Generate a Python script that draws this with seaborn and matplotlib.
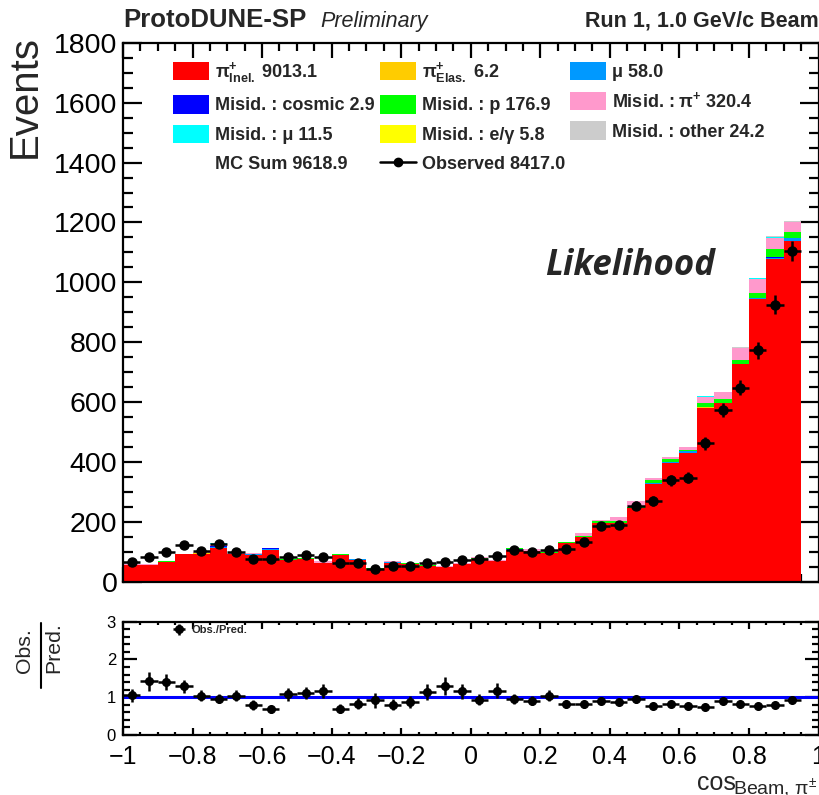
import numpy as np
import pandas as pd
import matplotlib
matplotlib.use("Agg")
import matplotlib.pyplot as plt
import seaborn as sns
from matplotlib.patches import Patch
from matplotlib.lines import Line2D
from matplotlib.ticker import MultipleLocator, FuncFormatter

# cos(theta) binning: 39 bins of width 0.05 from -1 to 0.95
bin_edges = [round(-1.0 + 0.05 * i, 3) for i in range(40)]

# Stacked MC components (events per bin)
pi_inel = [57, 56, 67, 93, 95, 115, 93, 91, 108, 75, 78, 64, 91, 73, 45, 65, 61, 53, 50, 59,
           76, 70, 107, 102, 97, 129, 149, 196, 198, 246, 327, 398, 432, 582, 596, 727, 944, 1077, 1138]
pi_elas = [0, 0, 0, 0, 1, 0, 0, 0, 0, 0, 0, 0, 0, 0, 0, 0, 0, 0, 0, 0,
           0, 0, 1, 0, 0, 0, 0, 0, 0, 0, 1, 0, 0, 1, 0, 0, 1, 1, 1]
mu = [0, 0, 0, 0, 0, 3, 0, 3, 3, 0, 0, 0, 0, 3, 0, 1, 0, 1, 0, 1,
      1, 0, 1, 1, 1, 1, 2, 2, 0, 2, 2, 2, 5, 2, 2, 2, 3, 5, 9]
misid_cosmic = [0, 0, 0, 0, 0, 1, 0, 0, 1, 0, 0, 0, 0, 0, 0, 0, 0, 0, 0, 0,
                0, 0, 0, 0, 0, 0, 0, 0, 0, 0, 0, 0, 0, 0, 0, 0, 0, 1, 0]
misid_p = [1, 1, 2, 1, 2, 1, 1, 1, 1, 1, 1, 1, 1, 1, 1, 2, 1, 2, 1, 1,
           3, 1, 3, 2, 2, 3, 3, 5, 4, 3, 10, 11, 5, 12, 14, 12, 16, 28, 20]
misid_pi = [3, 2, 1, 1, 2, 8, 2, 1, 1, 1, 2, 4, 1, 1, 1, 1, 1, 1, 1, 1,
            2, 2, 2, 4, 2, 2, 8, 3, 14, 19, 6, 5, 10, 22, 21, 39, 47, 36, 32]
misid_mu = [0, 0, 0, 0, 0, 2, 0, 0, 1, 0, 0, 0, 0, 0, 0, 0, 0, 0, 0, 0,
            0, 0, 0, 0, 0, 0, 0, 0, 0, 0, 0, 0, 0, 1, 0, 1, 2, 2, 2]
misid_egamma = [0, 0, 1, 0, 1, 0, 0, 0, 0, 0, 0, 0, 0, 0, 0, 0, 0, 0, 0, 0,
                0, 0, 0, 0, 0, 0, 0, 0, 0, 0, 0, 0, 0, 1, 0, 0, 1, 1, 1]
misid_other = [4, 1, 0, 0, 0, 1, 0, 1, 0, 0, 0, 1, 0, 0, 0, 0, 0, 0, 0, 0,
               0, 0, 0, 1, 0, 0, 2, 0, 0, 1, 0, 0, 0, 1, 0, 2, 2, 3, 3]

# Data
observed = [68, 85, 100, 122, 105, 126, 100, 77, 78, 83, 90, 82, 65, 65, 43, 55, 55, 65, 68, 72,
            77, 86, 108, 100, 106, 111, 133, 187, 190, 255, 269, 340, 348, 463, 574, 648, 773, 926, 1105]

component_names = ["pi_inel", "pi_elas", "mu", "misid_cosmic", "misid_p",
                   "misid_pi", "misid_mu", "misid_egamma", "misid_other"]
component_values = [pi_inel, pi_elas, mu, misid_cosmic, misid_p,
                    misid_pi, misid_mu, misid_egamma, misid_other]
component_colors = ["#ff0000", "#ffcc00", "#0099ff", "#0000ff", "#00ff00",
                    "#ff99cc", "#00ffff", "#ffff00", "#cccccc"]
legend_labels = [r"π$^{+}_{Inel.}$ 9013.1", r"π$^{+}_{Elas.}$ 6.2", "μ 58.0",
                 "Misid. : cosmic 2.9", "Misid. : p 176.9", r"Misid. : π$^{+}$ 320.4",
                 "Misid. : μ 11.5", "Misid. : e/γ 5.8", "Misid. : other 24.2"]
mc_sum_label = "MC Sum 9618.9"
observed_label = "Observed 8417.0"

sns.set_theme(style="ticks")
plt.rcParams["font.family"] = ["Liberation Sans", "DejaVu Sans"]
plt.rcParams.update({
    "mathtext.fontset": "custom",
    "mathtext.rm": "Liberation Sans:bold",
    "mathtext.it": "Liberation Sans:bold",
    "mathtext.bf": "Liberation Sans:bold",
    "mathtext.default": "regular",
    "axes.linewidth": 1.6,
})

W, H = 819, 795
fig = plt.figure(figsize=(W / 100, H / 100), dpi=100)


def fx(px):
    return px / W


def fy(py):
    return 1 - py / H


ax = fig.add_axes([fx(123), fy(582), fx(818.5) - fx(123), fy(42.7) - fy(582)])
axr = fig.add_axes([fx(123), fy(735), fx(818.5) - fx(123), fy(621.7) - fy(735)])

edges = np.asarray(bin_edges)
centers = 0.5 * (edges[:-1] + edges[1:])
frames = []
for name, vals in zip(component_names, component_values):
    frames.append(pd.DataFrame({"x": centers, "w": np.asarray(vals, float), "comp": name}))
long_df = pd.concat(frames, ignore_index=True)

# seaborn stacks the last hue level at the bottom, so reverse the order
sns.histplot(data=long_df, x="x", weights="w", hue="comp",
             hue_order=component_names[::-1],
             palette=dict(zip(component_names, component_colors)),
             bins=bin_edges, multiple="stack", element="step", fill=True,
             linewidth=0, alpha=1, legend=False, ax=ax)

obs = np.asarray(observed, float)
ax.errorbar(centers, obs, xerr=0.025, yerr=np.sqrt(obs), fmt="o", color="black",
            ms=6.5, elinewidth=1.8, capsize=0, zorder=5)

ax.set_xlim(-1, 1)
ax.set_ylim(0, 1800)
ax.set_xlabel("")
ax.set_ylabel("")
ax.xaxis.set_major_locator(MultipleLocator(0.2))
ax.xaxis.set_minor_locator(MultipleLocator(0.05))
ax.yaxis.set_major_locator(MultipleLocator(200))
ax.yaxis.set_minor_locator(MultipleLocator(50))
ax.tick_params(which="both", direction="in", top=True, right=True, labelbottom=False,
               width=1.6, colors="black")
ax.tick_params(axis="x", which="major", length=11)
ax.tick_params(axis="x", which="minor", length=5.5)
ax.tick_params(axis="y", which="major", length=14, labelsize=20.5, pad=4)
ax.tick_params(axis="y", which="minor", length=7)
for s in ax.spines.values():
    s.set_visible(True)
    s.set_color("black")

# Legend, filled row by row
handles = [Patch(facecolor=c, edgecolor="none") for c in component_colors]
handles += [Patch(facecolor="none", edgecolor="none"),
            Line2D([0], [0], color="black", marker="o", ms=6, lw=1.8),
            Patch(facecolor="none", edgecolor="none")]
labels = legend_labels + [mc_sum_label, observed_label, ""]
order = [0, 3, 6, 9, 1, 4, 7, 10, 2, 5, 8, 11]
ax.legend([handles[i] for i in order], [labels[i] for i in order], ncol=3,
          loc="upper left", bbox_to_anchor=(fx(173), fy(60)), bbox_transform=fig.transFigure,
          frameon=False, prop={"weight": "bold", "size": 13}, handlelength=2.0,
          handleheight=1.2, handletextpad=0.35, columnspacing=0.25, labelspacing=0.56,
          borderpad=0, borderaxespad=0)

# Ratio panel
tot = np.sum(np.asarray(component_values, float), axis=0)
ratio = obs / tot
ratio_err = ratio * np.sqrt(1 / obs + 1 / tot)
axr.axhline(1.0, color="#0000ff", lw=2.2, zorder=2)
axr.errorbar(centers, ratio, xerr=0.025, yerr=ratio_err, fmt="o", color="black",
             ms=5.5, elinewidth=1.8, capsize=0, zorder=5, label="Obs./Pred.")
axr.set_xlim(-1, 1)
axr.set_ylim(0, 3)
axr.xaxis.set_major_locator(MultipleLocator(0.2))
axr.xaxis.set_minor_locator(MultipleLocator(0.05))
axr.yaxis.set_major_locator(MultipleLocator(1))
axr.yaxis.set_minor_locator(MultipleLocator(0.2))
axr.tick_params(which="both", direction="in", top=True, right=True, width=1.6, colors="black")
axr.tick_params(axis="x", which="major", length=5, labelsize=18, pad=7)
axr.tick_params(axis="x", which="minor", length=2.5)
axr.tick_params(axis="y", which="major", length=10, labelsize=12, pad=5)
axr.tick_params(axis="y", which="minor", length=5)
axr.xaxis.set_major_formatter(FuncFormatter(
    lambda v, p: "0" if abs(v) < 1e-9 else ("%g" % v).replace("-", "\u2212")))
for s in axr.spines.values():
    s.set_visible(True)
    s.set_color("black")
axr.legend(loc="upper left", bbox_to_anchor=(fx(169), fy(625)), bbox_transform=fig.transFigure,
           frameon=False, prop={"weight": "bold", "size": 8}, handlelength=1.8,
           handletextpad=0.2, borderpad=0, borderaxespad=0)

# Axis titles
fig.text(fx(25), fy(97), "Events", rotation=90, ha="center", va="center", fontsize=29)
fig.text(fx(24.5), fy(673), "Obs.", rotation=90, ha="center", va="bottom", fontsize=15.3)
fig.text(fx(53.5), fy(673), "Pred.", rotation=90, ha="center", va="bottom", fontsize=15.3)
fig.add_artist(Line2D([fx(41), fx(41)], [fy(623), fy(688)], color="black", lw=1.5))
fig.text(fx(697), fy(790), "cos", ha="left", va="baseline", fontsize=18)
fig.text(fx(733), fy(794), "Beam, π$^{±}$", ha="left", va="baseline", fontsize=14)

# Header
fig.text(fx(123), fy(27), "ProtoDUNE-SP", ha="left", va="baseline", fontsize=18.5,
         fontweight="bold")
fig.text(fx(320), fy(27), "Preliminary", ha="left", va="baseline", fontsize=15.5,
         fontstyle="italic")
fig.text(fx(819), fy(27), "Run 1, 1.0 GeV/c Beam", ha="right", va="baseline", fontsize=15.5,
         fontweight="bold")

fig.text(fx(545), fy(275), "Likelihood", ha="left", va="baseline", fontsize=25,
         fontweight="bold", fontstyle="italic", family=["Open Sans", "Liberation Sans"])

fig.savefig("out.png", dpi=100)
